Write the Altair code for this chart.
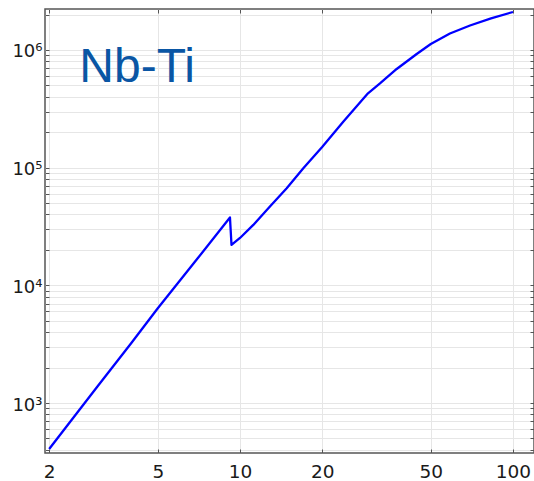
import altair as alt
import pandas as pd

# Curve (temperature in K, heat capacity)
temperature = [2, 3, 4, 5, 7, 9.19, 9.31, 10, 11.19, 12.8, 14.83, 17.06, 20,
               23.89, 29.44, 32.57, 37.5, 44.39, 50, 58.75, 69.6, 83.1, 100]
heat_capacity = [407, 1375, 3236, 6390, 16960, 37750, 22040, 25270, 32610,
                 46000, 66830, 98830, 149900, 245900, 428700, 519300, 689800,
                 924700, 1124000, 1381000, 1615000, 1859000, 2103000]

x_tick_values = [2, 5, 10, 20, 50, 100]
y_tick_values = [400, 500, 600, 700, 800, 900,
                 1000, 2000, 3000, 4000, 5000, 6000, 7000, 8000, 9000,
                 10000, 20000, 30000, 40000, 50000, 60000, 70000, 80000, 90000,
                 100000, 200000, 300000, 400000, 500000, 600000, 700000, 800000, 900000,
                 1000000, 2000000]
y_label_values = [1000, 10000, 100000, 1000000]
y_label_texts = ["10³", "10⁴", "10⁵", "10⁶"]

label_text = ["Nb-Ti"]
label_x = [2.58]
label_y = [535000]

x_domain = [1.931, 119.4]
y_domain = [376, 2230000]

df = pd.DataFrame({"T": temperature, "C": heat_capacity})
ann = pd.DataFrame({"x": label_x, "y": label_y, "text": label_text})

xscale = alt.Scale(type="log", domain=x_domain, nice=False)
yscale = alt.Scale(type="log", domain=y_domain, nice=False)

label_expr = " : ".join(
    f"datum.value == {v} ? '{t}'" for v, t in zip(y_label_values, y_label_texts)
) + " : ''"

FONT = "DejaVu Sans"
TICK_COLOR = "#555555"
GRID_COLOR = "#e6e6e6"

main = alt.Chart(df).mark_line(
    color="#0000ff", strokeWidth=2.3, clip=True, strokeJoin="round"
).encode(
    x=alt.X("T:Q", scale=xscale, axis=alt.Axis(
        orient="bottom", values=x_tick_values, title=None, grid=True,
        gridColor=GRID_COLOR, domain=False, tickSize=4, offset=-4,
        tickColor=TICK_COLOR, labelFont=FONT, labelFontSize=18.5,
        labelColor="#1a1a1a", labelPadding=9, labelFlush=False,
        labelOverlap=False)),
    y=alt.Y("C:Q", scale=yscale, axis=alt.Axis(
        orient="left", values=y_tick_values, labelExpr=label_expr, title=None,
        grid=True, gridColor=GRID_COLOR, domain=False, tickSize=4, offset=-4,
        tickColor=TICK_COLOR, labelFont=FONT, labelFontSize=18,
        labelColor="#1a1a1a", labelPadding=3, labelFlush=False,
        labelOverlap=False, labelOffset=2)),
)

frame = alt.Chart(df).mark_line(opacity=0).encode(
    x=alt.X("T:Q", scale=xscale, axis=alt.Axis(
        orient="top", values=x_tick_values, title=None, labels=False,
        grid=False, domain=False, tickSize=4, offset=-4, tickColor=TICK_COLOR)),
    y=alt.Y("C:Q", scale=yscale, axis=alt.Axis(
        orient="right", values=y_tick_values, title=None, labels=False,
        grid=False, domain=False, tickSize=4, offset=-4, tickColor=TICK_COLOR)),
)

text = alt.Chart(ann).mark_text(
    font="Liberation Sans", fontSize=48, color="#0a56a4", align="left",
    baseline="alphabetic"
).encode(
    x=alt.X("x:Q", scale=xscale, axis=None),
    y=alt.Y("y:Q", scale=yscale, axis=None),
    text="text:N",
)

chart = alt.layer(frame, main, text).resolve_axis(
    x="independent", y="independent"
).properties(
    width=489, height=444,
    autosize=alt.AutoSizeParams(type="none"),
    padding={"left": 45, "top": 9, "right": 0, "bottom": 28},
).configure_view(stroke="#555555", strokeWidth=1.5)

chart.save("out.html", embed_options={"renderer": "svg", "actions": False})
